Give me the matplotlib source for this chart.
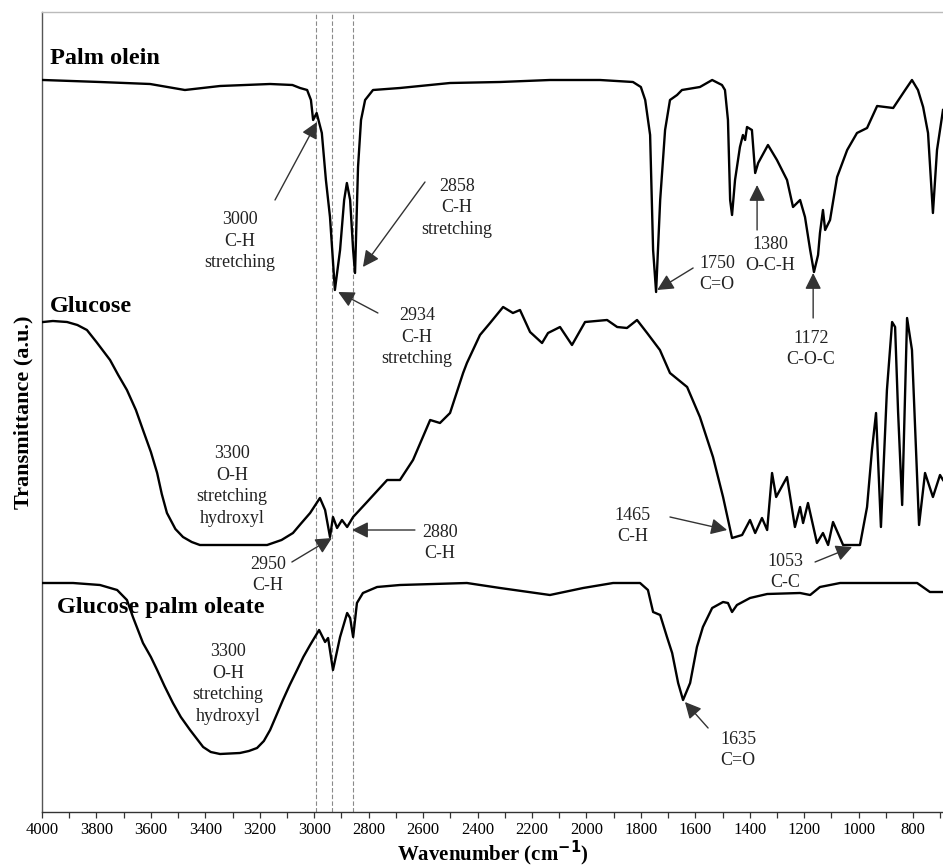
import matplotlib
matplotlib.use("Agg")
import matplotlib.pyplot as plt
from matplotlib.ticker import MultipleLocator

plt.rcParams['font.family'] = ['Liberation Serif', 'DejaVu Serif']

# ---------------- data (arbitrary transmittance units) ----------------
palm_wn = [3996, 3787, 3603, 3475, 3346, 3162, 3080, 3052, 3026, 3012, 3004, 2991, 2972, 2957, 2942,
           2924, 2905, 2890, 2880, 2868, 2857, 2850, 2839, 2828, 2813, 2784, 2685, 2501, 2317,
           2134, 1950, 1829, 1800, 1784, 1766, 1755, 1744, 1729, 1711, 1693, 1667, 1649, 1583, 1538,
           1502, 1491, 1480, 1472, 1465, 1454, 1436, 1425, 1417, 1410, 1392, 1380, 1369, 1333,
           1300, 1263, 1241, 1215, 1197, 1178, 1164, 1149, 1142, 1131, 1123, 1105, 1079, 1042,
           1006, 969, 932, 873, 829, 804, 782, 763, 745, 727, 712, 690]
palm_t = [732, 730, 728, 722, 726, 728, 727, 724, 722, 712, 692, 699, 679, 632, 595,
          522, 562, 612, 629, 612, 562, 539, 645, 692, 712, 722, 724, 729, 730,
          732, 732, 730, 725, 712, 677, 562, 520, 612, 682, 712, 717, 722, 725, 732,
          727, 722, 692, 612, 597, 632, 665, 677, 672, 685, 682, 639, 649, 667,
          652, 632, 605, 612, 595, 562, 540, 557, 579, 602, 582, 592, 635, 662,
          679, 684, 706, 704, 722, 732, 722, 705, 679, 599, 662, 702]

glucose_wn = [3996, 3960, 3908, 3870, 3835, 3800, 3750, 3720, 3688, 3655, 3629, 3600, 3577, 3560,
              3541, 3510, 3482, 3450, 3420, 3173, 3120, 3078, 3050, 3015, 2979,
              2960, 2942, 2931, 2916, 2898, 2879, 2857, 2806, 2732, 2685, 2637, 2574, 2538, 2501,
              2453, 2439, 2391, 2354, 2306, 2270, 2244, 2207, 2163, 2141, 2097, 2053, 2005, 1924,
              1887, 1851, 1814, 1777, 1730, 1693, 1630, 1583, 1535, 1498, 1465, 1428, 1399, 1380,
              1355, 1336, 1318, 1303, 1289, 1263, 1234, 1215, 1204, 1186, 1153, 1131, 1112, 1094,
              1057, 995, 969, 951, 936, 918, 896, 877, 866, 855, 840, 822, 804, 778, 756, 727,
              701, 690]
glucose_t = [490, 491, 490, 487, 482, 470, 452, 437, 422, 402, 382, 360, 339, 318,
             299, 283, 275, 270, 267, 267, 272, 279, 288, 299, 314,
             302, 275, 295, 284, 292, 285, 295, 310, 332, 332, 352, 392, 389, 399,
             439, 449, 477, 489, 505, 499, 502, 480, 469, 479, 485, 467, 490, 492,
             485, 484, 492, 479, 462, 439, 425, 395, 355, 315, 274, 277, 292, 279,
             294, 282, 339, 315, 322, 335, 285, 305, 289, 309, 269, 279, 267, 290,
             267, 267, 305, 362, 399, 285, 422, 490, 485, 400, 307, 494, 462, 287, 339, 315,
             337, 332]

gpo_wn = [3996, 3886, 3787, 3724, 3688, 3666, 3629, 3600, 3577, 3550, 3519, 3490, 3456, 3408,
          3380, 3346, 3273, 3240, 3210, 3185, 3162, 3140, 3115, 3090, 3063, 3040, 3015, 2982,
          2960, 2949, 2931, 2905, 2879, 2868, 2857, 2843, 2821,
          2769, 2685, 2439, 2317, 2134, 2012, 1902, 1803, 1774, 1755, 1729, 1704, 1685, 1663,
          1645, 1619, 1594, 1572, 1538, 1498, 1480, 1465, 1447, 1399, 1336, 1215, 1178, 1142,
          1068, 785, 738, 690]
gpo_t = [229, 229, 227, 222, 212, 195, 169, 155, 142, 126, 109, 95, 82, 65,
         60, 58, 59, 61, 64, 71, 82, 96, 112, 127, 142, 155, 167, 182,
         170, 174, 142, 175, 199, 194, 175, 209, 219,
         225, 227, 229, 224, 217, 224, 229, 229, 222, 200, 197, 175, 159, 129,
         112, 129, 165, 185, 204, 210, 209, 200, 207, 214, 218, 219, 217, 225,
         229, 229, 220, 220]

sample_names = ["Palm olein", "Glucose", "Glucose palm oleate"]
name_pos = [(3971, 754), (3971, 506), (3945, 204)]

ref_lines = [2994, 2934, 2858]

# peak labels: text, text position, arrow tail, arrow head (None = no arrow)
peak_texts = ["3000\nC-H\nstretching", "2858\nC-H\nstretching", "2934\nC-H\nstretching",
              "1750\nC=O", "1380\nO-C-H", "1172\nC-O-C",
              "3300\nO-H\nstretching\nhydroxyl", "2950\nC-H", "2880\nC-H", "1465\nC-H", "1053\nC-C",
              "3300\nO-H\nstretching\nhydroxyl", "1635\nC=O"]
peak_text_pos = [(3273, 571), (2475, 604), (2622, 475),
                 (1520, 538), (1325, 557), (1175, 463),
                 (3302, 326), (3170, 237), (2538, 269), (1829, 286), (1270, 240),
                 (3317, 128), (1443, 62)]
arrow_tail = [(3144, 612), (2593, 630), (2766, 499),
              (1608, 544), (1373, 582), (1167, 494),
              None, (3082, 250), (2630, 282), (1693, 295), (1160, 250),
              None, (1553, 84)]
arrow_head = [(2990, 690), (2821, 545), (2912, 520),
              (1740, 522), (1373, 627), (1167, 539),
              None, (2935, 274), (2861, 282), (1483, 282), (1024, 265),
              None, (1638, 110)]

# ---------------- figure ----------------
fig = plt.figure(figsize=(9.43, 8.68), dpi=100)
ax = fig.add_axes([42 / 943, 56 / 868, 901 / 943, 800 / 868])

for wn, t in [(palm_wn, palm_t), (glucose_wn, glucose_t), (gpo_wn, gpo_t)]:
    ax.plot(wn, t, color='black', lw=1.7, solid_joinstyle='round', zorder=3)

for r in ref_lines:
    ax.axvline(r, color='#8a8a8a', lw=0.8, ls=(0, (4, 2)), zorder=1)

for name, (x, y) in zip(sample_names, name_pos):
    ax.text(x, y, name, fontsize=17.5, fontweight='bold', ha='left', va='center', zorder=4)

for txt, (tx, ty), tail, head in zip(peak_texts, peak_text_pos, arrow_tail, arrow_head):
    ax.text(tx, ty, txt, fontsize=13, ha='center', va='center', linespacing=1.35,
            color='#222222', zorder=4)
    if tail is not None:
        ax.annotate('', xy=head, xytext=tail,
                    arrowprops=dict(arrowstyle='-|>,head_length=0.7,head_width=0.35',
                                    color='#333333', lw=1.0, mutation_scale=14,
                                    shrinkA=0, shrinkB=0), zorder=5)

ax.set_xlim(4000, 690)
ax.set_ylim(0, 800)
ax.xaxis.set_major_locator(MultipleLocator(200))
ax.xaxis.set_minor_locator(MultipleLocator(100))
ax.tick_params(axis='x', which='both', direction='out', length=4.5, width=0.9,
               color='#333333', labelsize=12, pad=3)
ax.set_yticks([])

ax.spines['right'].set_visible(False)
ax.spines['top'].set_color('#bbbbbb')
ax.spines['top'].set_linewidth(1.0)
ax.spines['left'].set_color('#555555')
ax.spines['bottom'].set_color('#333333')
ax.spines['left'].set_linewidth(1.0)
ax.spines['bottom'].set_linewidth(1.0)

ax.set_xlabel('Wavenumber (cm$^{\\mathbf{-1}}$)', fontsize=15, fontweight='bold', labelpad=0)
ax.set_ylabel('Transmittance (a.u.)', fontsize=16, fontweight='bold', labelpad=6)

fig.savefig('out.png', dpi=100)
